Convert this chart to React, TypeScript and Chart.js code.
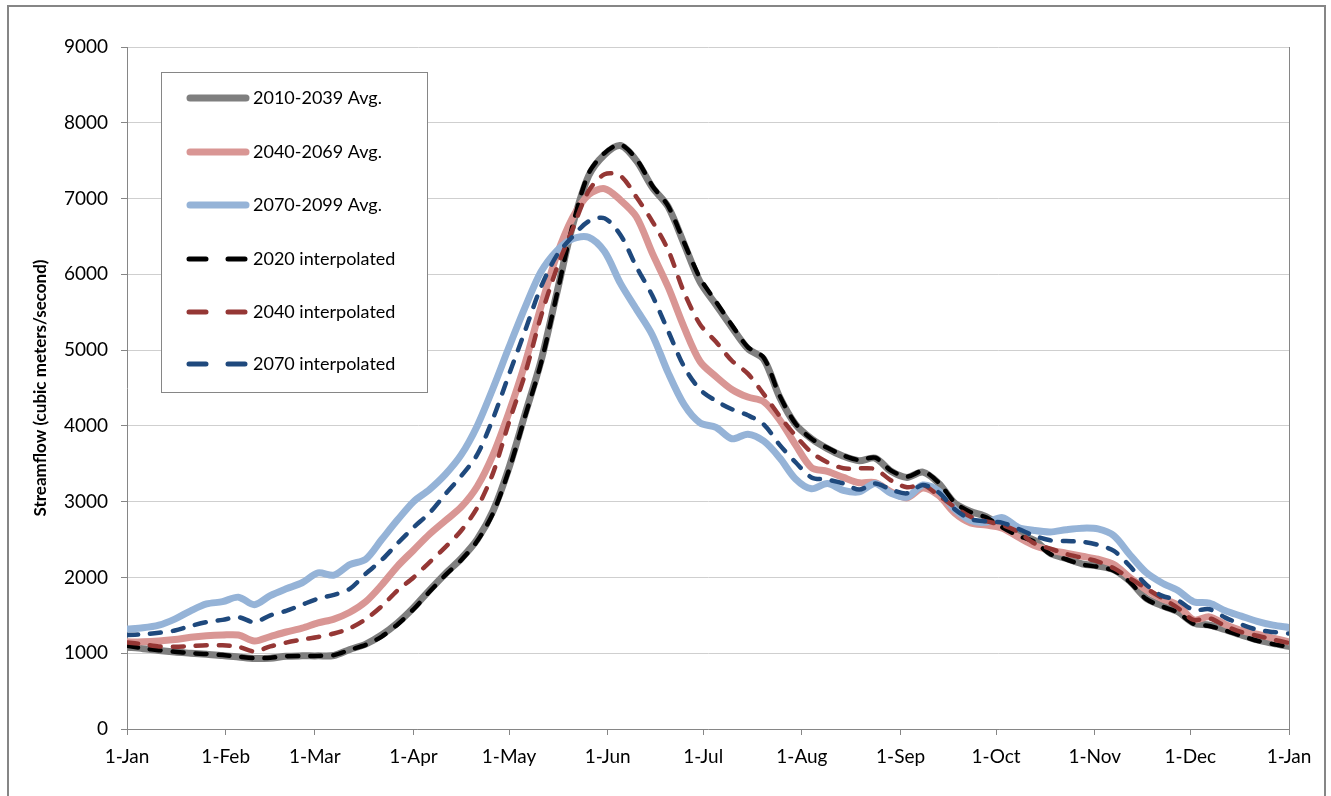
import React, { useEffect, useRef } from "react";
import { Chart, registerables } from "chart.js";

Chart.register(...registerables);

// Day of year (0 = 1-Jan) for each sampled point
const days = [
  0, 5, 10, 15, 20, 25, 30, 35, 40, 45, 50, 55, 60, 65, 70, 75, 80, 85, 90, 95,
  100, 105, 110, 115, 120, 125, 130, 135, 140, 145, 150, 155, 160, 165, 170, 175,
  180, 185, 190, 195, 200, 205, 210, 215, 220, 225, 230, 235, 240, 245, 250, 255,
  260, 265, 270, 275, 280, 285, 290, 295, 300, 305, 310, 315, 320, 325, 330, 335,
  340, 345, 350, 355, 360, 365,
];

const monthTickDays = [0, 31, 59, 90, 120, 151, 181, 212, 243, 273, 304, 334, 365];
const monthTickLabels = [
  "1-Jan", "1-Feb", "1-Mar", "1-Apr", "1-May", "1-Jun", "1-Jul",
  "1-Aug", "1-Sep", "1-Oct", "1-Nov", "1-Dec", "1-Jan",
];

const seriesNames = [
  "2010-2039 Avg.",
  "2040-2069 Avg.",
  "2070-2099 Avg.",
  "2020 interpolated",
  "2040 interpolated",
  "2070 interpolated",
];

const avg2010_2039 = [
  1080, 1060, 1035, 1015, 1000, 985, 970, 950, 930, 935, 960, 965, 965, 970, 1050, 1120,
  1240, 1400, 1600, 1830, 2050, 2250, 2500, 2880, 3450, 4150, 4850, 5750, 6650, 7300,
  7580, 7700, 7500, 7150, 6890, 6400, 5900, 5600, 5300, 5020, 4880, 4380, 4020, 3830,
  3700, 3600, 3540, 3575, 3400, 3320, 3390, 3240, 2980, 2870, 2800, 2670, 2560, 2490,
  2320, 2250, 2180, 2150, 2100, 1950, 1730, 1630, 1550, 1400, 1370, 1310, 1240, 1175,
  1130, 1090,
];

const avg2040_2069 = [
  1150, 1150, 1160, 1180, 1210, 1230, 1240, 1240, 1160, 1220, 1280, 1330, 1400, 1450,
  1540, 1680, 1900, 2150, 2360, 2570, 2750, 2930, 3200, 3620, 4180, 4820, 5570, 6250,
  6750, 7050, 7130, 6980, 6760, 6280, 5830, 5300, 4850, 4650, 4480, 4380, 4320, 4080,
  3750, 3450, 3400, 3320, 3250, 3250, 3130, 3050, 3180, 3080, 2850, 2720, 2690, 2650,
  2530, 2420, 2360, 2320, 2280, 2240, 2170, 2000, 1840, 1720, 1640, 1440, 1480, 1380,
  1300, 1250, 1200, 1150,
];

const avg2070_2099 = [
  1320, 1335, 1370, 1450, 1560, 1650, 1680, 1740, 1640, 1760, 1850, 1930, 2060, 2030,
  2170, 2240, 2500, 2760, 3000, 3160, 3360, 3620, 4000, 4500, 5040, 5560, 6030, 6310,
  6470, 6490, 6300, 5880, 5540, 5200, 4700, 4280, 4040, 3980, 3830, 3890, 3800, 3580,
  3300, 3170, 3240, 3150, 3130, 3240, 3110, 3060, 3220, 3140, 2900, 2750, 2730, 2790,
  2660, 2620, 2600, 2630, 2650, 2640, 2550, 2300, 2070, 1930, 1830, 1680, 1660, 1560,
  1490, 1420, 1370, 1340,
];

const interp2020 = [
  1100, 1065, 1040, 1020, 1000, 990, 975, 955, 935, 940, 960, 965, 965, 975, 1045, 1110,
  1220, 1380, 1580, 1810, 2030, 2230, 2480, 2850, 3420, 4120, 4820, 5730, 6650, 7330,
  7600, 7710, 7520, 7170, 6900, 6420, 5950, 5640, 5330, 5040, 4900, 4400, 4030, 3830,
  3710, 3610, 3550, 3580, 3410, 3330, 3400, 3250, 2990, 2860, 2790, 2660, 2550, 2470,
  2310, 2240, 2170, 2140, 2090, 1940, 1720, 1620, 1540, 1390, 1360, 1300, 1230, 1165,
  1120, 1085,
];

const interp2040 = [
  1140, 1120, 1090, 1085, 1095, 1105, 1105, 1085, 1025, 1090, 1140, 1180, 1215, 1260,
  1330, 1450, 1620, 1830, 2000, 2200, 2400, 2620, 2920, 3380, 4050, 4680, 5440, 6080,
  6600, 7100, 7320, 7300, 7020, 6700, 6320, 5760, 5340, 5110, 4860, 4690, 4420, 4130,
  3870, 3650, 3520, 3440, 3440, 3430, 3280, 3190, 3220, 3080, 2930, 2800, 2740, 2690,
  2600, 2450, 2380, 2310, 2260, 2210, 2120, 1990, 1860, 1730, 1600, 1440, 1460, 1360,
  1280, 1230, 1180, 1135,
];

const interp2070 = [
  1240, 1250, 1270, 1300, 1360, 1410, 1440, 1475, 1410, 1500, 1560, 1640, 1720, 1770,
  1850, 2050, 2230, 2450, 2660, 2850, 3100, 3340, 3620, 4100, 4680, 5250, 5830, 6250,
  6500, 6700, 6740, 6520, 6100, 5720, 5250, 4780, 4480, 4330, 4220, 4140, 4020, 3750,
  3520, 3320, 3290, 3240, 3160, 3240, 3160, 3110, 3220, 3120, 2900, 2770, 2740, 2720,
  2640, 2550, 2490, 2480, 2470, 2430, 2350, 2150, 1910, 1760, 1700, 1570, 1580, 1470,
  1380, 1310, 1280, 1260,
];

const seriesValues = [avg2010_2039, avg2040_2069, avg2070_2099, interp2020, interp2040, interp2070];
const seriesColors = ["#7f7f7f", "#d99694", "#95b3d7", "#000000", "#953735", "#1f497d"];
const seriesDashed = [false, false, false, true, true, true];

const FONT = "Lato, 'Open Sans', sans-serif";

const framePlugin = {
  id: "frame",
  beforeDraw(chart: any) {
    const ctx = chart.ctx;
    ctx.save();
    ctx.fillStyle = "#ffffff";
    ctx.fillRect(0, 0, chart.width, chart.height);
    ctx.restore();
  },
  afterDraw(chart: any) {
    const ctx = chart.ctx;
    const a = chart.chartArea;
    ctx.save();
    // plot-area right border
    ctx.strokeStyle = "#868686";
    ctx.lineWidth = 1;
    ctx.beginPath();
    ctx.moveTo(Math.round(a.right) + 0.5, a.top);
    ctx.lineTo(Math.round(a.right) + 0.5, a.bottom);
    ctx.stroke();
    // outer chart border
    ctx.lineWidth = 2;
    ctx.strokeStyle = "#868686";
    ctx.strokeRect(8, 6, 1317, 900);

    // legend box
    const lx = 161, ly = 72, lw = 266, lh = 320;
    ctx.fillStyle = "#ffffff";
    ctx.fillRect(lx, ly, lw, lh);
    ctx.lineWidth = 1;
    ctx.strokeStyle = "#868686";
    ctx.strokeRect(lx + 0.5, ly + 0.5, lw, lh);
    const rowY = [98, 152, 205, 259, 312, 364];
    seriesNames.forEach((name, i) => {
      const y = rowY[i];
      ctx.strokeStyle = seriesColors[i];
      ctx.lineCap = "round";
      if (seriesDashed[i]) {
        ctx.lineWidth = 5;
        ctx.beginPath();
        ctx.moveTo(189, y);
        ctx.lineTo(206, y);
        ctx.moveTo(228, y);
        ctx.lineTo(245, y);
        ctx.stroke();
      } else {
        ctx.lineWidth = 7;
        ctx.beginPath();
        ctx.moveTo(190, y);
        ctx.lineTo(246, y);
        ctx.stroke();
      }
      ctx.fillStyle = "#000000";
      ctx.font = `18px ${FONT}`;
      ctx.textBaseline = "middle";
      ctx.textAlign = "left";
      ctx.fillText(name, 253, y);
    });
    ctx.restore();
  },
};

export default function App() {
  const canvasRef = useRef<HTMLCanvasElement | null>(null);

  useEffect(() => {
    const canvas = canvasRef.current;
    if (!canvas) return;
    const datasets = seriesValues.map((vals, i) => ({
      label: seriesNames[i],
      data: days.map((d, j) => ({ x: d, y: vals[j] })),
      borderColor: seriesColors[i],
      backgroundColor: seriesColors[i],
      borderWidth: seriesDashed[i] ? 4.5 : 7,
      borderDash: seriesDashed[i] ? [11, 12] : [],
      borderCapStyle: "round" as const,
      borderJoinStyle: "round" as const,
      pointRadius: 0,
      tension: 0.3,
      fill: false,
      order: 6 - i,
    }));

    const chart = new Chart(canvas, {
      type: "line",
      data: { datasets },
      options: {
        responsive: false,
        animation: false,
        layout: { padding: { left: 0, top: 47, right: 42, bottom: 0 } },
        plugins: {
          legend: { display: false },
          tooltip: { enabled: false },
        },
        scales: {
          x: {
            type: "linear",
            min: 0,
            max: 365,
            afterBuildTicks: (s: any) => {
              s.ticks = monthTickDays.map((v) => ({ value: v }));
            },
            afterFit: (s: any) => {
              s.height = 67;
            },
            grid: {
              drawOnChartArea: false,
              drawTicks: true,
              tickLength: 6,
              tickColor: "#868686",
            },
            border: { color: "#868686", width: 1 },
            ticks: {
              autoSkip: false,
              maxRotation: 0,
              padding: 10,
              color: "#000000",
              font: { family: FONT, size: 19 },
              callback: (v: any) => {
                const idx = monthTickDays.indexOf(Number(v));
                return idx >= 0 ? monthTickLabels[idx] : "";
              },
            },
          },
          y: {
            min: 0,
            max: 9000,
            afterFit: (s: any) => {
              s.width = 127;
            },
            grid: {
              color: "#cfcfcf",
              tickLength: 6,
              tickColor: "#868686",
            },
            border: { color: "#868686", width: 1 },
            ticks: {
              stepSize: 1000,
              padding: 13,
              color: "#000000",
              font: { family: FONT, size: 19 },
              callback: (v: any) => String(v),
            },
            title: {
              display: true,
              text: "Streamflow (cubic meters/second)",
              color: "#000000",
              font: { family: FONT, size: 17, weight: "bold" },
              padding: { top: 30, bottom: 0 },
            },
          },
        },
      },
      plugins: [framePlugin],
    });
    return () => chart.destroy();
  }, []);

  return (
    <div
      style={{
        position: "fixed",
        left: 0,
        top: 0,
        width: 1331,
        height: 796,
        overflow: "hidden",
        background: "#ffffff",
      }}
    >
      <canvas ref={canvasRef} width={1331} height={796} style={{ display: "block" }} />
    </div>
  );
}
